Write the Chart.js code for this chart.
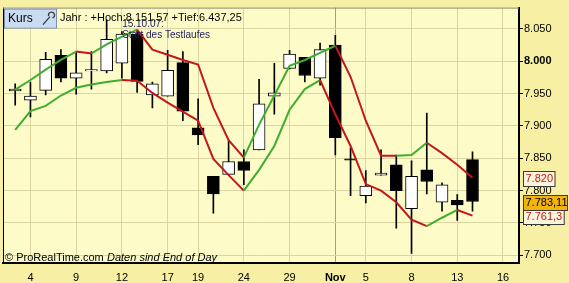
<!DOCTYPE html>
<html>
<head>
<meta charset="utf-8">
<script src="https://cdn.jsdelivr.net/npm/chart.js@4.4.1/dist/chart.umd.min.js"></script>
<style>
    html, body { margin: 0; padding: 0; background: #f7f0a4; }
    #wrap { width: 569px; height: 283px; }
</style>
</head>
<body>
<div id="wrap"><canvas id="kurs-chart" width="569" height="283"></canvas></div>
<script>
// Daily candles, 3 Oct - 14 Nov 2007 (index 0 = 3 Oct)
const opens  = [7954, 7940, 7955, 8009, 7974, 7985, 7985, 7997, 8042, 7948, 7946, 7998, 7897, 7822, 7825, 7845,
                7863, 7946, 7989, 8006, 7974, 8025, 7849, 7792, 7824, 7840, 7772, 7832, 7782, 7785, 7848];
const highs  = [7965, 7968, 8014, 8018, 8014, 8015, 8064, 8046, 8048, 7968, 8017, 8015, 7942, 7822, 7877, 7863,
                7972, 7997, 8017, 8006, 8028, 8040, 7866, 7831, 7863, 7855, 7846, 7920, 7812, 7794, 7860];
const lows   = [7932, 7914, 7948, 7968, 7949, 7957, 7982, 7974, 7952, 7928, 7946, 7908, 7871, 7765, 7825, 7809,
                7863, 7918, 7988, 7968, 7963, 7855, 7792, 7781, 7824, 7742, 7703, 7795, 7768, 7754, 7768];
const closes = [7957, 7946, 8003, 7974, 7982, 7987, 8034, 8042, 7969, 7965, 7986, 7923, 7886, 7795, 7845, 7831,
                7934, 7951, 8011, 7978, 8018, 7882, 7847, 7807, 7827, 7800, 7822, 7814, 7809, 7778, 7783.11];

// upper and lower band lines, with trend flags (1 = green segment, -1 = red segment)
const upperBand = [7956, 7971, 7987, 8002, 8015, 8012, 8026, 8038, 8049, 8018, 8010, 8002, 7995, 7928, 7878, 7851,
                   7902, 7947, 7993, 8002, 8013, 8024, 7976, 7908, 7854, 7854, 7855, 7874, 7858, 7840, 7820];
const lowerBand = [7894, 7923, 7931, 7947, 7959, 7964, 7968, 7971, 7970, 7951, 7936, 7922, 7908, 7849, 7824, 7800,
                   7832, 7869, 7925, 7957, 7971, 7918, 7869, 7810, 7800, 7782, 7755, 7745, 7758, 7770, 7761.3];
const upperTrend = [1, 1, 1, 1, -1, 1, 1, 1, -1, -1, -1, -1, -1, -1, -1, 1,
                    1, 1, 1, 1, 1, -1, -1, -1, -1, 1, 1, -1, -1, -1, -1];
const lowerTrend = [1, 1, 1, 1, 1, 1, 1, -1, -1, -1, -1, -1, -1, -1, -1, 1,
                    1, 1, 1, 1, -1, -1, -1, -1, -1, -1, -1, 1, 1, -1, -1];

// x axis tick positions (trading day index) and their labels
const tickIndex  = [1, 4, 7, 10, 12, 15, 18, 21, 23, 26, 29, 32];
const tickLabels = ['4', '9', '12', '17', '19', '24', '29', 'Nov', '5', '8', '13', '16'];

const GREEN = '#3fae2e';
const RED = '#c4161c';
const FONT = "'Liberation Sans', Arial, sans-serif";

const wickData = lows.map((l, i) => ({ x: i, y: [l, highs[i]] }));
const bodyData = opens.map((o, i) => ({ x: i, y: [o, closes[i]] }));
const bodyColors = opens.map((o, i) => closes[i] >= o ? '#ffffff' : '#000000');
const upperData = upperBand.map((v, i) => ({ x: i, y: v }));
const lowerData = lowerBand.map((v, i) => ({ x: i, y: v }));

function isNov(c) {
    return !!(c && c.tick && tickLabels[tickIndex.indexOf(c.tick.value)] === 'Nov');
}

const decorations = {
    id: 'decorations',
    beforeDraw(chart) {
        const ctx = chart.ctx;
        const a = chart.chartArea;
        ctx.save();
        ctx.fillStyle = '#f7f0a4';
        ctx.fillRect(0, 0, chart.width, chart.height);
        ctx.fillStyle = '#fdfbc8';
        ctx.fillRect(a.left, a.top, a.right - a.left, a.bottom - a.top);
        ctx.restore();
    },
    afterDraw(chart) {
        const ctx = chart.ctx;
        const a = chart.chartArea;
        const x = chart.scales.x;
        const y = chart.scales.y;
        ctx.save();

        // frame left and top
        ctx.strokeStyle = '#000';
        ctx.lineWidth = 1;
        ctx.beginPath();
        ctx.moveTo(a.left + 0.5, a.bottom);
        ctx.lineTo(a.left + 0.5, a.top);
        ctx.stroke();
        ctx.strokeStyle = '#8a8a70';
        ctx.beginPath();
        ctx.moveTo(a.left, a.top + 0.5);
        ctx.lineTo(a.right, a.top + 0.5);
        ctx.stroke();

        // "Kurs" box
        ctx.fillStyle = '#c9dcf2';
        ctx.fillRect(a.left + 1, a.top + 1, 52, 19);
        ctx.strokeStyle = '#7f8fa8';
        ctx.strokeRect(a.left + 1.5, a.top + 1.5, 52, 19);
        ctx.fillStyle = '#000';
        ctx.font = '12px ' + FONT;
        ctx.textBaseline = 'middle';
        ctx.fillText('Kurs', a.left + 5, a.top + 11);
        // little wrench
        ctx.strokeStyle = '#333';
        ctx.lineWidth = 1.2;
        ctx.beginPath();
        ctx.moveTo(a.left + 40, a.top + 17);
        ctx.lineTo(a.left + 47, a.top + 9);
        ctx.stroke();
        ctx.beginPath();
        ctx.arc(a.left + 48.5, a.top + 7.5, 3, Math.PI * 0.9, Math.PI * 2.4);
        ctx.stroke();

        // header text
        ctx.font = '11px ' + FONT;
        ctx.fillText('Jahr : +Hoch:8.151,57 +Tief:6.437,25', a.left + 57, a.top + 10);

        // annotation at start of test run
        const ax = x.getPixelForValue(8) - 15;
        ctx.fillStyle = '#1c1c5a';
        ctx.font = '10px ' + FONT;
        ctx.fillText('15.10.07:', ax, a.top + 17);
        ctx.fillText('Start des Testlaufes', ax, a.top + 28);

        // copyright line
        ctx.fillStyle = '#000';
        ctx.font = '11px ' + FONT;
        ctx.textBaseline = 'alphabetic';
        ctx.fillText('\u00a9 ProRealTime.com', a.left + 2, a.bottom - 2);
        ctx.font = 'italic 11px ' + FONT;
        ctx.fillText('Daten sind End of Day', a.left + 104, a.bottom - 2);

        // value boxes on right axis
        const lastUp = upperBand[upperBand.length - 1];
        const lastLow = lowerBand[lowerBand.length - 1];
        const lastClose = closes[closes.length - 1];
        const boxes = [
            { v: lastUp, text: (lastUp / 1000).toFixed(3), fg: RED, bg: '#fdf6dc' },
            { v: lastLow, text: '7.761,3', fg: RED, bg: '#fdf6dc' },
            { v: lastClose, text: '7.783,11', fg: '#000', bg: '#f2b40c' }
        ];
        ctx.font = '11px ' + FONT;
        ctx.textBaseline = 'middle';
        boxes.forEach(b => {
            const py = Math.round(y.getPixelForValue(b.v));
            const w = Math.min(ctx.measureText(b.text).width + 4, chart.width - a.right - 6);
            ctx.fillStyle = b.bg;
            ctx.fillRect(a.right + 4, py - 7, w, 15);
            ctx.strokeStyle = '#3a3a3a';
            ctx.lineWidth = 1;
            ctx.strokeRect(a.right + 4.5, py - 6.5, w, 15);
            ctx.fillStyle = b.fg;
            ctx.fillText(b.text, a.right + 6.5, py + 1);
        });

        ctx.restore();
    }
};

new Chart(document.getElementById('kurs-chart'), {
    type: 'bar',
    data: {
        datasets: [
            {
                type: 'line',
                data: upperData,
                borderWidth: 2,
                pointRadius: 0,
                tension: 0,
                order: 0,
                segment: {
                    borderColor: c => upperTrend[c.p0DataIndex] > 0 ? GREEN : RED
                }
            },
            {
                type: 'line',
                data: lowerData,
                borderWidth: 2,
                pointRadius: 0,
                tension: 0,
                order: 0,
                segment: {
                    borderColor: c => lowerTrend[c.p0DataIndex] > 0 ? GREEN : RED
                }
            },
            {
                data: bodyData,
                backgroundColor: bodyColors,
                borderColor: '#000',
                borderWidth: 1,
                borderSkipped: false,
                barThickness: 12,
                grouped: false,
                order: 1
            },
            {
                data: wickData,
                backgroundColor: '#000',
                borderWidth: 0,
                barThickness: 1,
                grouped: false,
                order: 2
            }
        ]
    },
    options: {
        responsive: false,
        animation: false,
        layout: { padding: { left: 3, top: 4, right: 0, bottom: 0 } },
        plugins: {
            legend: { display: false },
            tooltip: { enabled: false }
        },
        scales: {
            x: {
                type: 'linear',
                offset: false,
                min: -0.8,
                max: 33.05,
                afterBuildTicks: scale => {
                    scale.ticks = tickIndex.map(v => ({ value: v }));
                },
                afterFit: scale => { scale.height = 20; },
                ticks: {
                    autoSkip: false,
                    maxRotation: 0,
                    padding: 8,
                    color: '#000',
                    font: c => ({ family: FONT, size: 11, weight: isNov(c) ? 'bold' : 'normal' }),
                    callback: v => tickLabels[tickIndex.indexOf(v)]
                },
                grid: {
                    offset: false,
                    drawTicks: false,
                    color: c => isNov(c) ? '#a3a08a' : '#dcd5a0'
                },
                border: { color: '#000', width: 2 }
            },
            y: {
                position: 'right',
                min: 7688,
                max: 8083,
                afterBuildTicks: scale => {
                    const t = [];
                    for (let v = 7700; v <= 8050; v += 50) t.push({ value: v });
                    scale.ticks = t;
                },
                afterFit: scale => { scale.width = 50; },
                ticks: {
                    padding: 1,
                    color: '#000',
                    font: c => ({ family: FONT, size: 11, weight: (c && c.tick && c.tick.value === 8000) ? 'bold' : 'normal' }),
                    callback: v => (v / 1000).toFixed(3)
                },
                grid: {
                    color: '#dcd5a0',
                    tickLength: 4,
                    tickColor: '#000'
                },
                border: { color: '#000', width: 2 }
            }
        }
    },
    plugins: [decorations]
});
</script>
</body>
</html>
